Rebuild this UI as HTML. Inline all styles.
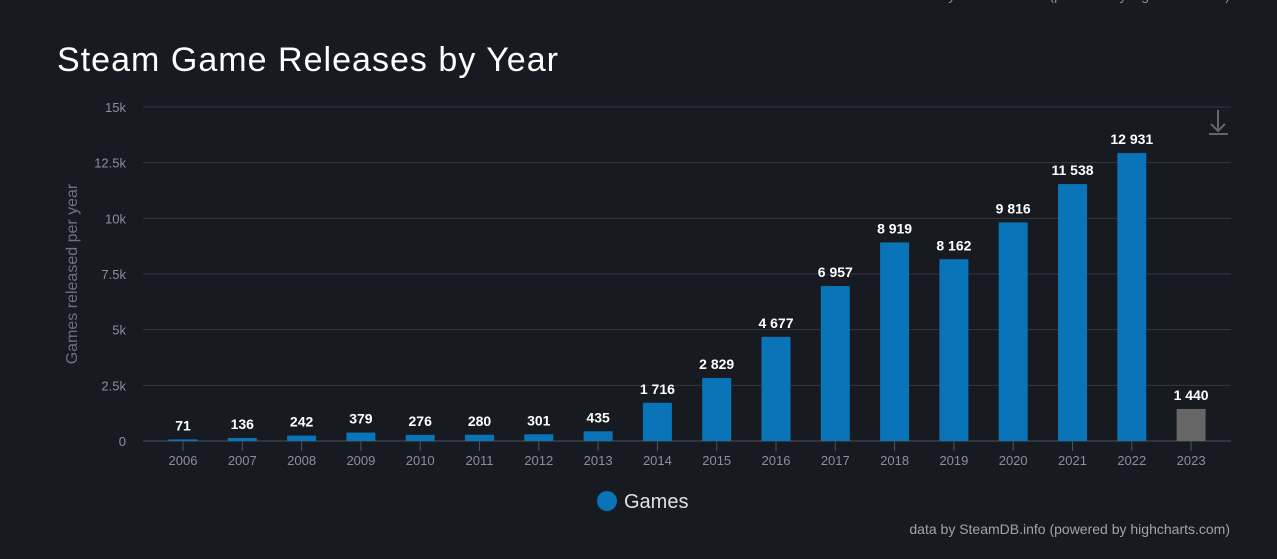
<!DOCTYPE html>
<html><head><meta charset="utf-8"><style>
body{margin:0;background:#171a21;width:1277px;height:554px;overflow:hidden;font-family:"Liberation Sans",sans-serif}
</style></head><body>
<svg width="1277" height="554" id="c">
<text x="1230" y="0" text-anchor="end" fill="#8a8f98" font-size="14">data by SteamDB.info (powered by highcharts.com)</text>
<text x="57" y="71" fill="#ffffff" font-size="34" textLength="501">Steam Game Releases by Year</text>
<text transform="translate(77,274) rotate(-90)" text-anchor="middle" fill="#6d727a" font-size="16">Games released per year</text>
<g stroke="#666" stroke-width="2" fill="none"><path d="M1218 110 V131 M1211 124 L1218 131 L1225 124 M1209 134 H1228"/></g>
<g id="grid"></g><g id="bars"></g>
<g><circle cx="607" cy="501" r="10" fill="#0a74b9"/><text x="624" y="508" fill="#e0e0e0" font-size="20">Games</text></g>
<text x="1230" y="534" text-anchor="end" fill="#a0a4aa" font-size="14">data by SteamDB.info (powered by highcharts.com)</text>
</svg>
<script>
const categories=["2006","2007","2008","2009","2010","2011","2012","2013","2014","2015","2016","2017","2018","2019","2020","2021","2022","2023"];
const values=[71,136,242,379,276,280,301,435,1716,2829,4677,6957,8919,8162,9816,11538,12931,1440];
const yTicks=[0,2500,5000,7500,10000,12500,15000];
const yTickLabels=["0","2.5k","5k","7.5k","10k","12.5k","15k"];
const NS="http://www.w3.org/2000/svg";
const y=v=>441-v/15000*334;
const x=i=>183+i*59.3;
function mk(t,a,p){const e=document.createElementNS(NS,t);for(const k in a)e.setAttribute(k,a[k]);p.appendChild(e);return e;}
const g=document.getElementById('grid'),b=document.getElementById('bars');
yTicks.forEach((v,i)=>{
 const l=mk('line',{x1:143,x2:1231,y1:y(v),y2:y(v),stroke:i==0?'#4a5360':'#33373e','stroke-width':1},g);
 
 
 const t=mk('text',{x:126,y:y(v)+5,'text-anchor':'end',fill:'#8a8f98','font-size':13},g);t.textContent=yTickLabels[i];
 
 
});
categories.forEach((c,i)=>{
 const tk=mk('line',{x1:x(i),x2:x(i),y1:441,y2:451,stroke:'#4a5360'},g);
 
 
 const t=mk('text',{x:x(i),y:465,'text-anchor':'middle',fill:'#8a8f98','font-size':13},g);t.textContent=c;
 
 
 const h=441-y(values[i]);
 const r=mk('rect',{x:x(i)-14.5,y:y(values[i]),width:29,height:h,fill:i==17?'#666666':'#0a74b9'},b);
 
 
 const d=mk('text',{x:x(i),y:y(values[i])-9,'text-anchor':'middle',fill:'#fff','font-size':14,'font-weight':'bold',stroke:'#171a21','stroke-width':2,'paint-order':'stroke'},b);
 d.textContent=values[i].toLocaleString('en-US').replace(/,/g,' ');
 
 
});
</script>
</body></html>
